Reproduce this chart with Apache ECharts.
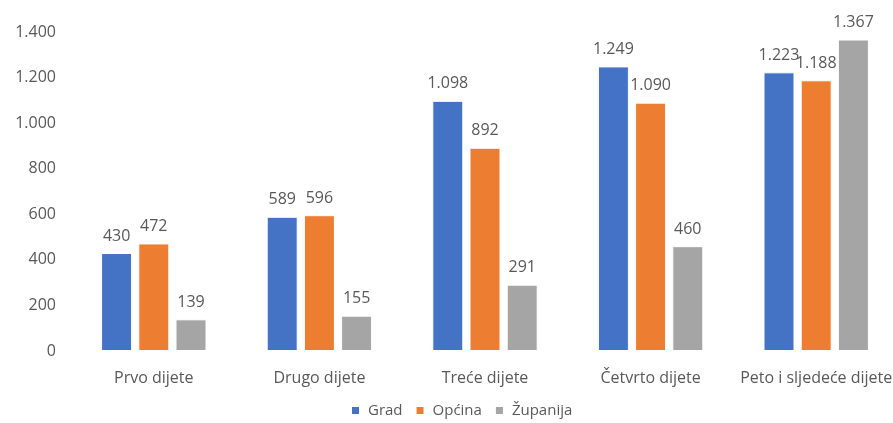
<!DOCTYPE html>
<html><head><meta charset="utf-8">
<script src="https://cdn.jsdelivr.net/npm/echarts@6/dist/echarts.min.js"></script>
<style>html,body{margin:0;padding:0;background:#fff}#c{width:893px;height:423px}</style>
</head><body><div id="c"></div>
<script>
const categories = ['Prvo dijete', 'Drugo dijete', 'Treće dijete', 'Četvrto dijete', 'Peto i sljedeće dijete'];
const grad = [430, 589, 1098, 1249, 1223];
const opcina = [472, 596, 892, 1090, 1188];
const zupanija = [139, 155, 291, 460, 1367];
const yTicks = { min: 0, max: 1400, interval: 200 };

function fmt(v) {
  return String(v).replace(/\B(?=(\d{3})+(?!\d))/g, '.');
}
const font = '"Open Sans", "Liberation Sans", sans-serif';
const txt = '#595959';
function s(name, data, color) {
  return {
    name, type: 'bar', data, barWidth: 31, barGap: '20%',
    itemStyle: { color, borderColor: '#fff', borderWidth: 1 },
    label: { show: true, position: 'top', distance: 9, color: txt, fontSize: 16, fontFamily: font,
      formatter: p => fmt(p.value) }
  };
}
const chart = echarts.init(document.getElementById('c'));
chart.setOption({
  animation: false,
  textStyle: { fontFamily: font },
  grid: { left: 71, width: 828, top: 32, bottom: 72, containLabel: false, outerBoundsMode: 'none' },
  legend: {
    top: 403, left: 350, padding: 0, itemWidth: 9, itemHeight: 9, itemGap: 12,
    textStyle: { color: txt, fontSize: 15, fontFamily: font, padding: [0, 0, 0, 3] },
    data: [{ name: 'Grad', icon: 'rect' }, { name: 'Općina', icon: 'rect' }, { name: 'Županija', icon: 'rect' }]
  },
  xAxis: {
    type: 'category', data: categories,
    axisLine: { show: false }, axisTick: { show: false },
    axisLabel: { color: txt, fontSize: 16, margin: 19, fontFamily: font, interval: 0 }
  },
  yAxis: {
    type: 'value', min: yTicks.min, max: yTicks.max, interval: yTicks.interval,
    splitLine: { show: false }, axisLine: { show: false }, axisTick: { show: false },
    axisLabel: { color: txt, fontSize: 16, margin: 15, fontFamily: font, formatter: v => fmt(v) }
  },
  series: [s('Grad', grad, '#4472C4'), s('Općina', opcina, '#ED7D31'), s('Županija', zupanija, '#A5A5A5')]
});
</script></body></html>
